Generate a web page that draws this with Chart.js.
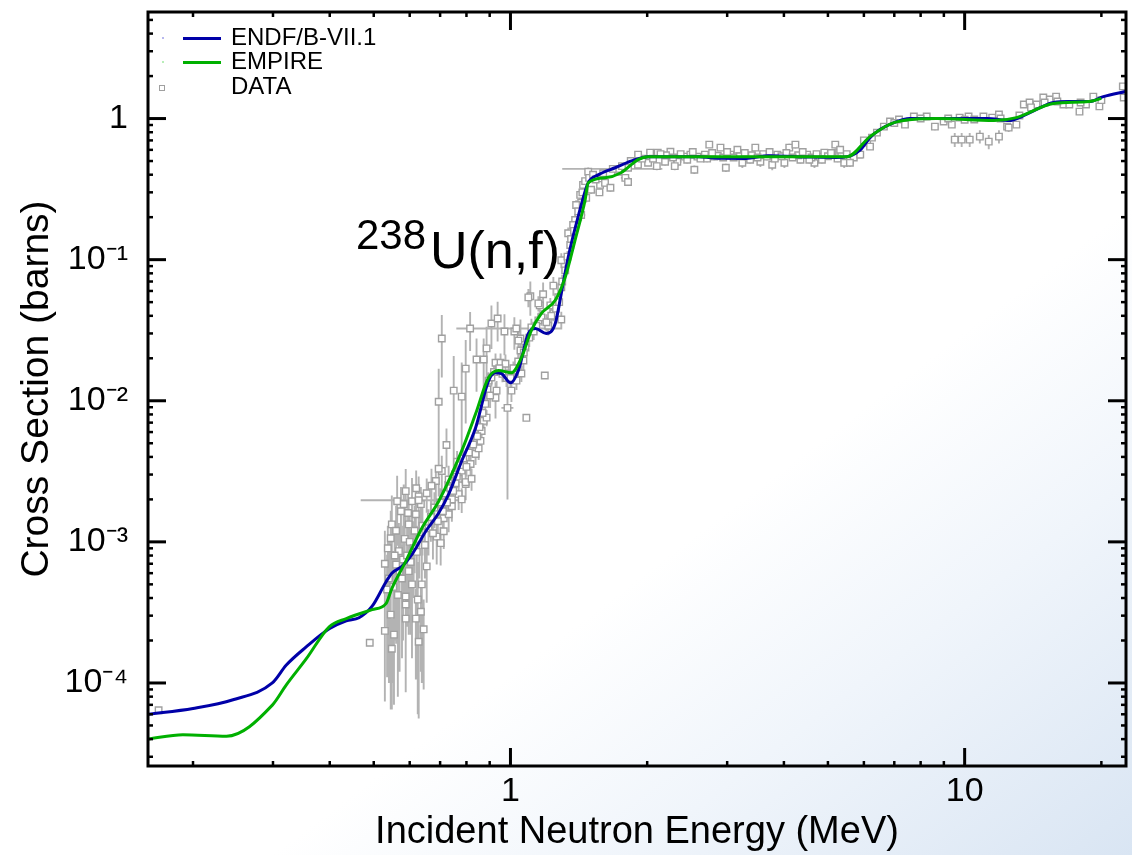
<!DOCTYPE html>
<html>
<head>
<meta charset="utf-8">
<script src="https://cdn.jsdelivr.net/npm/chart.js@4.4.1/dist/chart.umd.min.js"></script>
<style>
html,body{margin:0;padding:0;}
body{width:1132px;height:855px;overflow:hidden;
  background:linear-gradient(to bottom right,#ffffff 0%,#ffffff 62%,#f0f5fb 78%,#d9e5f3 100%);
  font-family:'Liberation Sans',Arial,Helvetica,sans-serif;}
#wrap{position:relative;width:1132px;height:855px;}
#c{position:absolute;left:0;top:0;}
.t{position:absolute;white-space:nowrap;color:#000;}
.lgtext{font-size:24px;line-height:24px;}
.lgline{position:absolute;width:38px;height:3px;}
</style>
</head>
<body>
<div id="wrap">
  <canvas id="c" width="1132" height="855"></canvas>
  <!-- legend -->
  <div class="lgline" style="left:183px;top:37px;background:#0000a8;"></div>
  <div class="lgline" style="left:183px;top:61px;background:#00b000;"></div>
  <div style="position:absolute;left:162px;top:37px;width:2px;height:2px;background:#b8b8ee;"></div>
  <div style="position:absolute;left:162px;top:61px;width:2px;height:2px;background:#b8eeb8;"></div>
  <div style="position:absolute;left:159px;top:85px;width:4px;height:4px;border:1.5px solid #a0a0a0;background:#fff;"></div>
  <div class="t lgtext" style="left:231px;top:25px;">ENDF/B-VII.1</div>
  <div class="t lgtext" style="left:231px;top:49px;">EMPIRE</div>
  <div class="t lgtext" style="left:231px;top:74px;">DATA</div>
  <!-- reaction label -->
  <div class="t" style="left:356px;top:214px;font-size:42px;line-height:42px;">238</div>
  <div class="t" style="left:430px;top:224px;font-size:52px;line-height:52px;">U(n,f)</div>
</div>
<script>
// ---------- axis ranges and tick labels ----------
const X_MIN = 0.1592, X_MAX = 22.66;
const Y_MIN = 2.58e-5, Y_MAX = 5.69;
const xTickValues = [1, 10];
const xTickLabels = ['1', '10'];
const yTickValues = [1e-4, 1e-3, 1e-2, 1e-1, 1];
const yTickLabels = ['10\u207B\u2074', '10\u207B\u00B3', '10\u207B\u00B2', '10\u207B\u00B9', '1'];

// ---------- evaluated curves ----------
const endfE = [0.159, 0.200, 0.245, 0.299, 0.321, 0.355, 0.399, 0.435, 0.464, 0.496, 0.532, 0.548, 0.577, 0.607, 0.651, 0.695, 0.731, 0.781, 0.838, 0.895, 0.927, 0.955, 1.0, 1.041, 1.095, 1.135, 1.199, 1.255, 1.294, 1.34, 1.409, 1.483, 1.56, 1.70, 1.88, 2.01, 2.6, 2.8, 3.3, 3.7, 4.5, 5.2, 5.51, 5.89, 6.19, 6.51, 6.99, 7.57, 9.0, 11.2, 12.55, 13.2, 14.4, 15.7, 17.0, 18.8, 20.2, 22.7];
const endfS = [6.0e-5, 6.6e-5, 7.6e-5, 1.0e-4, 1.34e-4, 1.80e-4, 2.42e-4, 2.76e-4, 2.90e-4, 3.5e-4, 5.2e-4, 6.0e-4, 6.7e-4, 8.15e-4, 1.19e-3, 1.6e-3, 2.18e-3, 3.74e-3, 6.43e-3, 1.39e-2, 1.58e-2, 1.56e-2, 1.34e-2, 1.64e-2, 3.0e-2, 3.25e-2, 3.0e-2, 3.53e-2, 5.78e-2, 0.104, 0.201, 0.350, 0.399, 0.448, 0.511, 0.537, 0.537, 0.525, 0.522, 0.545, 0.535, 0.530, 0.537, 0.601, 0.732, 0.835, 0.936, 1.0, 1.0, 1.0, 0.968, 1.016, 1.16, 1.30, 1.32, 1.32, 1.43, 1.56];
const empireE = [0.159, 0.19, 0.237, 0.299, 0.321, 0.355, 0.399, 0.435, 0.496, 0.532, 0.548, 0.588, 0.638, 0.695, 0.781, 0.838, 0.895, 0.941, 1.005, 1.057, 1.112, 1.17, 1.255, 1.32, 1.388, 1.46, 1.483, 1.615, 1.752, 1.91, 2.01, 3.0, 4.0, 5.51, 6.19, 6.99, 8.68, 11.6, 13.0, 15.7, 18.8, 20.0];
const empireS = [4.0e-5, 4.3e-5, 4.2e-5, 6.97e-5, 9.7e-5, 1.48e-4, 2.5e-4, 2.86e-4, 3.31e-4, 3.65e-4, 4.67e-4, 7.27e-4, 1.25e-3, 1.94e-3, 4.41e-3, 8.08e-3, 1.46e-2, 1.64e-2, 1.58e-2, 2.02e-2, 3.15e-2, 4.16e-2, 5.15e-2, 7.5e-2, 0.138, 0.265, 0.35, 0.38, 0.413, 0.511, 0.537, 0.537, 0.537, 0.537, 0.745, 0.936, 1.0, 0.968, 1.016, 1.28, 1.32, 1.39];

// ---------- experimental data: [E (MeV), sigma (b), d sigma, d E] ----------
const dataLow = [
  [0.168, 6.4e-5, 0, 0], [0.49, 1.93e-4, 0, 0]
];
const dataCluster = [
  [0.529, 7.0e-4, 5.0e-4, 0], [0.529, 2.34e-4, 1.6e-4, 0], [0.548, 1.75e-4, 1.1e-4, 0.006], [0.554, 2.2e-4, 1.5e-4, 0],
  [0.628, 1.96e-4, 1.4e-4, 0], [0.625, 3.9e-4, 3.3e-4, 0], [0.638, 5.0e-4, 4.0e-4, 0], [0.654, 6.7e-4, 3.0e-4, 0],
  [0.588, 4.1e-4, 3.0e-4, 0], [0.607, 5.0e-4, 3.5e-4, 0], [0.577, 5.5e-4, 4.0e-4, 0], [0.568, 8.6e-4, 5.0e-4, 0],
  [0.574, 1.65e-3, 8.0e-4, 0], [0.582, 1.85e-3, 7.0e-4, 0], [0.597, 1.33e-3, 6.0e-4, 0], [0.619, 1.57e-3, 5.0e-4, 0],
  [0.635, 1.85e-3, 6.0e-4, 0], [0.654, 2.21e-3, 6.0e-4, 0], [0.685, 2.7e-3, 8.0e-4, 0], [0.688, 1.09e-3, 4.0e-4, 0],
  [0.702, 9.8e-4, 3.0e-4, 0.008], [0.713, 1.19e-3, 3.0e-4, 0], [0.713, 1.47e-3, 4.0e-4, 0], [0.731, 1.57e-3, 4.0e-4, 0],
  [0.743, 1.79e-3, 4.0e-4, 0], [0.769, 2.18e-3, 5.0e-4, 0], [0.797, 2.57e-3, 6.0e-4, 0], [0.769, 2.8e-3, 6.0e-4, 0],
  [0.731, 2.77e-3, 7.0e-4, 0], [0.706, 3.18e-3, 9.0e-4, 0], [0.607, 1.94e-3, 9.0e-4, 0], [0.588, 2.29e-3, 1.0e-3, 0],
  [0.563, 1.94e-3, 1.0e-3, 0], [0.628, 2.1e-3, 8.0e-4, 0], [0.548, 1.33e-3, 8.0e-4, 0], [0.545, 1.06e-3, 6.0e-4, 0],
  [0.560, 6.9e-4, 5.0e-4, 0], [0.588, 2.86e-4, 2.0e-4, 0], [0.588, 3.6e-4, 2.5e-4, 0], [0.619, 2.86e-4, 1.8e-4, 0],
  [0.635, 3.2e-4, 2.0e-4, 0], [0.644, 2.4e-4, 1.5e-4, 0], [0.545, 3.05e-4, 2.4e-4, 0], [0.597, 6.2e-4, 4.0e-4, 0],
  [0.628, 1.97e-3, 0, 0.16],
  [0.797, 2.65e-3, 5e-4, 0], [0.817, 3.56e-3, 6e-4, 0], [0.838, 4.2e-3, 7e-4, 0], [0.859, 5.2e-3, 8e-4, 0],
  [0.864, 6.1e-3, 1.0e-3, 0], [0.873, 7.2e-3, 1.2e-3, 0], [0.886, 7.6e-3, 1.0e-3, 0], [0.851, 4.6e-3, 8e-4, 0],
  [0.821, 2.8e-3, 5e-4, 0], [0.781, 3.2e-3, 6e-4, 0], [0.763, 3.7e-3, 7e-4, 0], [0.757, 2.6e-3, 5e-4, 0],
  [0.743, 2.0e-3, 4e-4, 0], [0.781, 2.0e-3, 4e-4, 0], [0.706, 1.85e-3, 5e-4, 0], [0.695, 3.3e-3, 1.2e-3, 0],
  [0.535, 4.6e-4, 3.5e-4, 0], [0.540, 5.5e-4, 4.5e-4, 0], [0.552, 4.8e-4, 3.8e-4, 0], [0.556, 8.0e-4, 6.0e-4, 0],
  [0.565, 4.2e-4, 3.4e-4, 0], [0.570, 6.2e-4, 5.0e-4, 0], [0.580, 7.5e-4, 5.5e-4, 0], [0.585, 1.05e-3, 6.5e-4, 0],
  [0.592, 8.0e-4, 5.5e-4, 0], [0.600, 1.0e-3, 6.0e-4, 0], [0.603, 7.2e-4, 5.0e-4, 0], [0.612, 9.0e-4, 5.0e-4, 0],
  [0.615, 1.2e-3, 6.0e-4, 0], [0.622, 8.5e-4, 4.5e-4, 0], [0.630, 1.05e-3, 5.0e-4, 0], [0.640, 1.3e-3, 5.0e-4, 0],
  [0.648, 9.5e-4, 4.0e-4, 0], [0.660, 1.25e-3, 4.5e-4, 0], [0.668, 1.5e-3, 5.0e-4, 0], [0.675, 1.15e-3, 4.0e-4, 0],
  [0.680, 1.75e-3, 5.0e-4, 0], [0.692, 1.4e-3, 4.0e-4, 0], [0.700, 1.9e-3, 5.0e-4, 0], [0.710, 1.65e-3, 4.0e-4, 0],
  [0.718, 2.2e-3, 5.0e-4, 0], [0.725, 1.9e-3, 4.0e-4, 0], [0.737, 2.4e-3, 5.0e-4, 0], [0.748, 2.3e-3, 4.5e-4, 0],
  [0.755, 3.0e-3, 6.0e-4, 0], [0.762, 2.9e-3, 5.0e-4, 0], [0.775, 3.5e-3, 6.0e-4, 0], [0.787, 3.9e-3, 6.0e-4, 0],
  [0.800, 3.4e-3, 5.0e-4, 0], [0.810, 4.3e-3, 7.0e-4, 0], [0.828, 4.9e-3, 7.0e-4, 0], [0.845, 5.6e-3, 8.0e-4, 0],
  [0.855, 6.5e-3, 9.0e-4, 0], [0.868, 8.2e-3, 1.2e-3, 0], [0.880, 9.5e-3, 1.5e-3, 0], [0.890, 1.2e-2, 2.0e-3, 0],
  [0.537, 9.0e-4, 4.0e-4, 0], [0.560, 1.2e-3, 6.0e-4, 0], [0.595, 1.6e-3, 6.0e-4, 0], [0.62, 2.4e-3, 8.0e-4, 0],
  [0.67, 2.5e-3, 8.0e-4, 0]
];
const dataSparse = [
  [0.706, 0.0276, 0.013, 0.01], [0.695, 0.00984, 0.007, 0.01], [0.723, 0.00486, 0.0015, 0], [0.75, 0.0118, 0.009, 0],
  [0.781, 0.0107, 0.008, 0], [0.797, 0.0169, 0.01, 0.01], [0.815, 0.0325, 0.01, 0], [0.842, 0.0196, 0.008, 0],
  [0.873, 0.0196, 0.008, 0], [0.886, 0.0235, 0.01, 0], [0.908, 0.0353, 0.012, 0], [0.937, 0.0383, 0.012, 0],
  [0.97, 0.031, 0.01, 0], [1.02, 0.031, 0.008, 0], [1.052, 0.0276, 0.01, 0], [1.106, 0.055, 0.015, 0],
  [1.18, 0.0568, 0.012, 0], [1.19, 0.0151, 0, 0], [1.084, 0.00757, 0, 0], [0.985, 0.0089, 0.0069, 0.03],
  [0.927, 0.0105, 0.003, 0], [1.294, 0.0377, 0.005, 0], [1.03, 0.0325, 0, 0.27], [1.243, 0.0655, 0.01, 0]
];
const dataPeak = [
  [0.895, 1.39e-2, 2e-3, 0], [0.902, 1.09e-2, 2e-3, 0], [0.927, 1.86e-2, 3e-3, 0], [0.951, 1.86e-2, 3e-3, 0],
  [0.975, 1.83e-2, 3e-3, 0], [0.990, 1.56e-2, 2e-3, 0], [1.026, 1.64e-2, 2e-3, 0], [1.057, 1.56e-2, 2e-3, 0],
  [1.068, 1.93e-2, 3e-3, 0], [1.031, 1.39e-2, 2e-3, 0], [1.005, 1.18e-2, 2e-3, 0], [0.908, 1.46e-2, 2e-3, 0],
  [0.932, 1.18e-2, 2e-3, 0], [1.079, 2.38e-2, 4e-3, 0], [1.112, 3.31e-2, 5e-3, 0], [1.152, 3.71e-2, 5e-3, 0],
  [1.211, 3.4e-2, 5e-3, 0], [1.16, 4.74e-2, 6e-3, 0], [1.224, 4.74e-2, 6e-3, 0], [1.243, 4.16e-2, 5e-3, 0],
  [1.274, 5.41e-2, 6e-3, 0], [1.294, 6.37e-2, 8e-3, 0], [1.041, 2.67e-2, 4e-3, 0], [1.052, 2.27e-2, 4e-3, 0],
  [1.152, 4.9e-2, 6e-3, 0], [1.095, 5.4e-2, 8e-3, 0], [1.294, 9.9e-2, 1.2e-2, 0], [1.34, 0.154, 0.015, 0],
  [1.388, 0.191, 0.02, 0], [1.431, 0.253, 0.02, 0],
  [0.92, 0.016, 2e-3, 0], [0.945, 0.017, 2e-3, 0], [0.96, 0.0155, 2e-3, 0], [0.98, 0.0145, 2e-3, 0],
  [1.0, 0.0145, 2e-3, 0], [1.015, 0.017, 2e-3, 0], [1.04, 0.019, 3e-3, 0], [1.07, 0.022, 3e-3, 0],
  [1.1, 0.028, 4e-3, 0], [1.125, 0.031, 4e-3, 0], [1.14, 0.034, 4e-3, 0], [1.17, 0.039, 5e-3, 0],
  [1.2, 0.036, 5e-3, 0], [1.23, 0.04, 5e-3, 0], [1.26, 0.045, 6e-3, 0], [1.28, 0.05, 6e-3, 0],
  [1.32, 0.084, 0.008, 0], [1.354, 0.127, 0.012, 0], [1.374, 0.176, 0.015, 0], [1.395, 0.244, 0.02, 0],
  [1.424, 0.288, 0.02, 0], [1.431, 0.207, 0.02, 0.03], [1.445, 0.339, 0.025, 0], [1.468, 0.274, 0.02, 0],
  [1.483, 0.42, 0.03, 0], [1.505, 0.313, 0.02, 0], [1.575, 0.339, 0.02, 0], [1.615, 0.35, 0.02, 0],
  [1.66, 0.323, 0.02, 0.03], [1.725, 0.42, 0.02, 0], [1.79, 0.38, 0.02, 0.04], [1.815, 0.448, 0.02, 0],
  [1.909, 0.471, 0.02, 0], [2.009, 0.486, 0.02, 0], [1.73, 0.44, 0, 0.43], [1.815, 0.355, 0.015, 0],
  [1.57, 0.30, 0.015, 0.03],
  [1.30, 0.07, 0.008, 0], [1.335, 0.105, 0.01, 0], [1.36, 0.14, 0.012, 0], [1.38, 0.16, 0.015, 0],
  [1.41, 0.22, 0.02, 0], [1.44, 0.30, 0.02, 0], [1.46, 0.36, 0.02, 0], [1.49, 0.38, 0.02, 0],
  [1.52, 0.40, 0.02, 0], [1.54, 0.37, 0.02, 0], [1.6, 0.41, 0.02, 0], [1.68, 0.44, 0.02, 0],
  [1.76, 0.46, 0.02, 0], [1.84, 0.50, 0.02, 0], [1.95, 0.52, 0.02, 0]
];
const dataPlateau = [
  [1.91, 0.555, 0.03, 0], [2.03, 0.573, 0.03, 0.04], [2.11, 0.573, 0.03, 0], [2.19, 0.494, 0.03, 0],
  [2.25, 0.582, 0.03, 0], [2.33, 0.494, 0.04, 0.05], [2.42, 0.537, 0.03, 0], [2.49, 0.555, 0.03, 0],
  [2.54, 0.434, 0.03, 0], [2.58, 0.537, 0.03, 0], [2.68, 0.555, 0.03, 0.05], [2.74, 0.653, 0.03, 0],
  [2.81, 0.537, 0.03, 0], [2.90, 0.622, 0.03, 0], [2.98, 0.448, 0.03, 0], [3.05, 0.555, 0.03, 0.05],
  [3.16, 0.601, 0.03, 0], [3.24, 0.486, 0.04, 0], [3.33, 0.537, 0.03, 0], [3.46, 0.622, 0.03, 0],
  [3.55, 0.494, 0.04, 0.06], [3.67, 0.537, 0.03, 0], [3.77, 0.471, 0.04, 0], [3.87, 0.555, 0.03, 0],
  [4.01, 0.486, 0.04, 0.06], [4.11, 0.622, 0.04, 0], [4.24, 0.653, 0.04, 0], [4.35, 0.511, 0.03, 0],
  [4.50, 0.555, 0.03, 0], [4.67, 0.486, 0.04, 0], [4.79, 0.537, 0.03, 0.06], [4.91, 0.573, 0.03, 0],
  [5.19, 0.653, 0.04, 0], [5.29, 0.573, 0.03, 0], [5.43, 0.486, 0.04, 0], [5.59, 0.511, 0.03, 0],
  [5.85, 0.555, 0.03, 0], [6.10, 0.675, 0.04, 0], [6.25, 0.732, 0.04, 0],
  [2.2, 0.55, 0.02, 0], [2.37, 0.56, 0.02, 0], [2.62, 0.52, 0.02, 0], [2.86, 0.545, 0.02, 0],
  [3.1, 0.53, 0.02, 0], [3.4, 0.55, 0.02, 0], [3.6, 0.56, 0.02, 0], [3.95, 0.54, 0.02, 0],
  [4.3, 0.55, 0.02, 0], [4.6, 0.53, 0.02, 0], [5.0, 0.54, 0.02, 0], [5.35, 0.55, 0.02, 0],
  [2.1, 0.46, 0.03, 0], [2.3, 0.46, 0.03, 0],
  [2.06, 0.52, 0.03, 0], [2.14, 0.56, 0.03, 0], [2.28, 0.53, 0.03, 0], [2.45, 0.51, 0.03, 0],
  [2.52, 0.58, 0.03, 0], [2.71, 0.52, 0.03, 0], [2.78, 0.57, 0.03, 0], [2.94, 0.53, 0.03, 0],
  [3.0, 0.58, 0.03, 0], [3.2, 0.54, 0.03, 0], [3.28, 0.57, 0.03, 0], [3.37, 0.51, 0.03, 0],
  [3.5, 0.53, 0.03, 0], [3.72, 0.58, 0.03, 0], [3.82, 0.52, 0.03, 0], [4.05, 0.57, 0.03, 0],
  [4.18, 0.53, 0.03, 0], [4.4, 0.58, 0.03, 0], [4.55, 0.51, 0.03, 0], [4.72, 0.56, 0.03, 0],
  [4.85, 0.51, 0.03, 0], [5.08, 0.57, 0.03, 0], [5.25, 0.52, 0.03, 0], [5.5, 0.56, 0.03, 0],
  [5.7, 0.53, 0.03, 0]
];
const dataHigh = [
  [5.32, 0.601, 0.03, 0], [5.59, 0.486, 0.03, 0], [5.89, 0.555, 0.03, 0], [6.19, 0.632, 0.03, 0],
  [6.41, 0.795, 0.04, 0], [6.64, 0.877, 0.04, 0], [6.85, 0.952, 0.04, 0], [7.17, 0.984, 0.04, 0],
  [7.39, 0.906, 0.05, 0], [7.73, 1.033, 0.04, 0], [8.25, 1.033, 0.04, 0], [8.60, 0.877, 0.05, 0],
  [8.99, 0.952, 0.05, 0], [9.37, 0.906, 0.05, 0], [9.75, 1.016, 0.04, 0], [10.2, 1.033, 0.04, 0],
  [10.5, 0.984, 0.04, 0], [11.0, 1.033, 0.04, 0], [11.5, 1.016, 0.04, 0], [11.9, 1.068, 0.04, 0],
  [12.4, 0.877, 0.05, 0], [13.0, 0.906, 0.05, 0], [13.5, 1.258, 0.05, 0], [13.9, 1.30, 0.05, 0],
  [14.4, 1.258, 0.05, 0], [14.9, 1.41, 0.05, 0], [15.4, 1.365, 0.05, 0], [15.9, 1.43, 0.05, 0],
  [16.5, 1.258, 0.05, 0], [17.0, 1.258, 0.05, 0], [17.9, 1.12, 0.05, 0], [18.5, 1.258, 0.05, 0],
  [19.2, 1.43, 0.05, 0], [19.8, 1.22, 0.05, 0], [22.3, 1.69, 0.06, 0], [22.4, 1.41, 0.08, 0],
  [9.51, 0.709, 0.08, 0], [9.85, 0.709, 0.08, 0.2], [10.26, 0.709, 0.08, 0], [10.8, 0.745, 0.08, 0.2],
  [11.3, 0.686, 0.08, 0], [11.9, 0.745, 0.08, 0.2], [12.5, 0.863, 0.06, 0],
  [6.0, 0.70, 0.03, 0], [7.0, 0.93, 0.03, 0], [8.0, 1.0, 0.03, 0], [9.2, 1.0, 0.03, 0],
  [10.0, 0.98, 0.03, 0], [12.0, 1.0, 0.03, 0], [13.2, 1.05, 0.03, 0], [14.0, 1.2, 0.04, 0],
  [15.0, 1.3, 0.04, 0], [16.0, 1.32, 0.04, 0], [18.0, 1.3, 0.04, 0], [20.0, 1.35, 0.04, 0]
];

// ---------- build datasets from the value lists ----------
const allData = [].concat(dataLow, dataCluster, dataSparse, dataPeak, dataPlateau, dataHigh);
const pts = allData.map(r => ({x: r[0], y: r[1]}));
const errPts = [];
allData.forEach(r => {
  const [e, s, ds, de] = r;
  if (ds > 0) errPts.push({x: e, y: Math.max(s - ds, Y_MIN)}, {x: e, y: s + ds}, {x: e, y: null});
  if (de > 0) errPts.push({x: e - de, y: s}, {x: e + de, y: s}, {x: e, y: null});
});
const endfPts = endfE.map((e, i) => ({x: e, y: endfS[i]}));
const empirePts = empireE.map((e, i) => ({x: e, y: empireS[i]}));

const FONT = "'Liberation Sans', Arial, Helvetica, sans-serif";

// minor / major tick positions
function minorTicks(lo, hi) {
  const out = [];
  for (let d = Math.floor(Math.log10(lo)); d <= Math.ceil(Math.log10(hi)); d++) {
    for (let m = 2; m <= 9; m++) { const v = m * Math.pow(10, d); if (v > lo && v < hi) out.push(v); }
  }
  return out;
}
function majorTicks(lo, hi) {
  const out = [];
  for (let d = Math.ceil(Math.log10(lo)); d <= Math.floor(Math.log10(hi)); d++) out.push(Math.pow(10, d));
  return out;
}

const frameTicks = {
  id: 'frameTicks',
  afterDatasetsDraw(chart) {
    const {ctx, chartArea: a, scales} = chart;
    const sx = scales.x, sy = scales.y;
    ctx.save();
    ctx.strokeStyle = '#000';
    ctx.lineCap = 'butt';
    const seg = (x1, y1, x2, y2) => { ctx.beginPath(); ctx.moveTo(x1, y1); ctx.lineTo(x2, y2); ctx.stroke(); };
    const MAJ = 18, MIN = 5;
    ctx.lineWidth = 3;
    majorTicks(X_MIN, X_MAX).forEach(v => { const p = sx.getPixelForValue(v); seg(p, a.bottom, p, a.bottom - MAJ); seg(p, a.top, p, a.top + MAJ); });
    majorTicks(Y_MIN, Y_MAX).forEach(v => { const p = sy.getPixelForValue(v); seg(a.left, p, a.left + MAJ, p); seg(a.right, p, a.right - MAJ, p); });
    ctx.lineWidth = 2.5;
    minorTicks(X_MIN, X_MAX).forEach(v => { const p = sx.getPixelForValue(v); seg(p, a.bottom, p, a.bottom - MIN); seg(p, a.top, p, a.top + MIN); });
    minorTicks(Y_MIN, Y_MAX).forEach(v => { const p = sy.getPixelForValue(v); seg(a.left, p, a.left + MIN, p); seg(a.right, p, a.right - MIN, p); });
    ctx.lineWidth = 3;
    ctx.strokeRect(a.left, a.top, a.right - a.left, a.bottom - a.top);
    ctx.restore();
  }
};

function labelFor(values, labels, value) {
  const i = values.findIndex(v => Math.abs(Math.log10(v) - Math.log10(value)) < 1e-6);
  return i >= 0 ? labels[i] : '';
}

new Chart(document.getElementById('c'), {
  type: 'line',
  data: {
    datasets: [
      { label: 'EMPIRE', data: empirePts, borderColor: '#00b000', borderWidth: 3, pointRadius: 0,
        cubicInterpolationMode: 'monotone', fill: false, order: 0 },
      { label: 'ENDF/B-VII.1', data: endfPts, borderColor: '#0000a8', borderWidth: 3, pointRadius: 0,
        cubicInterpolationMode: 'monotone', fill: false, order: 1 },
      { label: 'DATA', data: pts, showLine: false, pointStyle: 'rect', pointRadius: 4.6,
        pointBorderColor: '#a0a0a0', pointBackgroundColor: '#ffffff', pointBorderWidth: 1.4, order: 2 },
      { label: 'DATA errors', data: errPts, borderColor: '#b3b3b3', borderWidth: 1.9, pointRadius: 0,
        spanGaps: false, tension: 0, fill: false, order: 3 }
    ]
  },
  options: {
    responsive: false,
    animation: false,
    devicePixelRatio: 1,
    layout: { padding: { top: 12, right: 2, left: 0, bottom: 0 } },
    plugins: { legend: { display: false }, tooltip: { enabled: false } },
    scales: {
      x: {
        type: 'logarithmic', min: X_MIN, max: X_MAX,
        grid: { display: false }, border: { display: false },
        afterBuildTicks: s => { s.ticks = xTickValues.map(v => ({ value: v })); },
        afterFit: s => { s.height = 89; s.paddingLeft = 0; s.paddingRight = 0; },
        ticks: { autoSkip: false, maxRotation: 0, padding: -3, color: '#000',
          font: { family: FONT, size: 34 },
          callback: v => labelFor(xTickValues, xTickLabels, v) },
        title: { display: true, text: 'Incident Neutron Energy (MeV)', color: '#000',
          font: { family: FONT, size: 38 }, padding: { top: 0, bottom: 0 } }
      },
      y: {
        type: 'logarithmic', min: Y_MIN, max: Y_MAX,
        grid: { display: false }, border: { display: false },
        afterBuildTicks: s => { s.ticks = yTickValues.map(v => ({ value: v })); },
        afterFit: s => { s.width = 148; s.paddingTop = 0; s.paddingBottom = 0; },
        ticks: { autoSkip: false, padding: 12, color: '#000',
          font: { family: FONT, size: 34 },
          callback: v => labelFor(yTickValues, yTickLabels, v) },
        title: { display: true, text: 'Cross Section (barns)', color: '#000',
          font: { family: FONT, size: 39 }, padding: { top: 14, bottom: 0 } }
      }
    }
  },
  plugins: [frameTicks]
});
</script>
</body>
</html>
